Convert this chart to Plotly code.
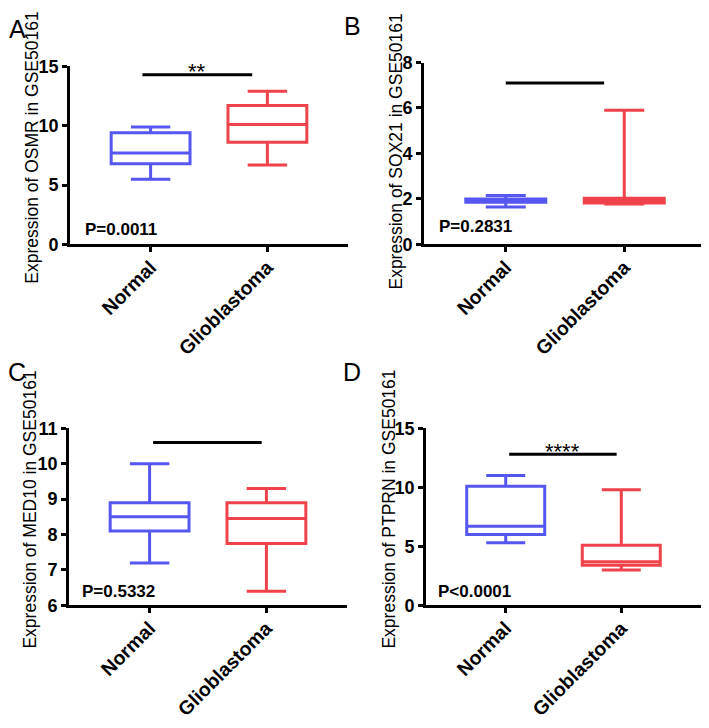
import plotly.graph_objects as go

# The page body keeps the browser's default 8px margin, so the figure is
# drawn 8px in from the top-left corner; compensate for that.
OFF = 8
W, H = 709 - OFF, 728 - 2 * OFF
categories = ["Normal", "Glioblastoma"]
colors = ["#5656f0", "#f0424a"]

# Box statistics per panel: [lower whisker, q1, median, q3, upper whisker]
panel_letters = ["A", "B", "C", "D"]
genes = ["OSMR", "SOX21", "MED10", "PTPRN"]
normal_stats = [
    [5.5, 6.8, 7.7, 9.4, 9.9],
    [1.65, 1.85, 1.93, 2.0, 2.15],
    [7.2, 8.1, 8.5, 8.9, 10.0],
    [5.3, 6.0, 6.7, 10.1, 11.0],
]
gbm_stats = [
    [6.7, 8.6, 10.1, 11.7, 12.9],
    [1.78, 1.82, 1.95, 2.03, 5.9],
    [6.4, 7.75, 8.45, 8.9, 9.3],
    [3.0, 3.4, 3.7, 5.1, 9.8],
]
y_ranges = [[0, 15], [0, 8], [6, 11], [0, 15]]
y_dticks = [5, 2, 1, 5]
p_values = ["P=0.0011", "P=0.2831", "P=0.5332", "P<0.0001"]
sig_y = [14.3, 7.1, 10.6, 12.8]
sig_x = [[-0.07, 0.87], [0.0, 0.83], [0.03, 0.96], [0.03, 0.96]]
sig_stars = ["**", "", "", "****"]

# layout in page pixels: (x0, x1, ytop, ybottom)
boxes_px = [
    (70, 348, 58, 242),
    (424, 706, 54, 242),
    (69, 347, 432, 615),
    (426, 701, 432, 615),
]
ytitle_px = [(32, 142), (396, 146), (30, 516), (389, 516)]
letter_px = [(17, 19), (352, 16), (17, 374), (352, 374)]
p_px = [(83, 227), (437, 223), (80, 601), (436, 601)]


def fx(px):
    return min(1.0, max(0.0, (px - OFF) / W))


def fy(py):
    return min(1.0, max(0.0, 1 - (py - OFF) / H))


FONT = "Liberation Sans, Arial, sans-serif"
fig = go.Figure()
layout = dict(
    width=W, height=H, margin=dict(l=0, r=0, t=0, b=0),
    paper_bgcolor="white", plot_bgcolor="white", showlegend=False,
    font=dict(family=FONT, color="black"),
    annotations=[], shapes=[],
)

for i in range(4):
    ax = "" if i == 0 else str(i + 1)
    xa, ya = "x" + ax, "y" + ax
    for j, (cat, st) in enumerate(zip(categories, [normal_stats[i], gbm_stats[i]])):
        fig.add_trace(go.Box(
            x=[cat], lowerfence=[st[0]], q1=[st[1]], median=[st[2]], q3=[st[3]],
            upperfence=[st[4]], boxpoints=False, width=0.675, whiskerwidth=0.5,
            line=dict(color=colors[j], width=3), fillcolor="rgba(255,255,255,0)",
            xaxis=xa, yaxis=ya, hoverinfo="skip",
        ))
    x0, x1, yt, yb = boxes_px[i]
    layout["xaxis" + ax] = dict(
        domain=[fx(x0), fx(x1)], anchor=ya, type="category",
        categoryorder="array", categoryarray=categories,
        range=[-0.69, 1.69], showline=True, linewidth=2.7, linecolor="black",
        ticks="outside", ticklen=5, tickwidth=2.7, tickcolor="black",
        tickangle=-45, showgrid=False, zeroline=False, ticklabelstandoff=-4,
        tickfont=dict(family=FONT, size=19.5, weight="bold", color="black"),
    )
    layout["yaxis" + ax] = dict(
        domain=[fy(yb), fy(yt)], anchor=xa, range=y_ranges[i],
        dtick=y_dticks[i], tick0=0, showline=True, linewidth=2.7, linecolor="black",
        ticks="outside", ticklen=5, tickwidth=2.7, tickcolor="black",
        showgrid=False, zeroline=False,
        tickfont=dict(family=FONT, size=18, weight="bold", color="black"),
    )
    # y title
    tx, ty = ytitle_px[i]
    layout["annotations"].append(dict(
        text=f"Expression of {genes[i]} in GSE50161", x=fx(tx), y=fy(ty),
        xref="paper", yref="paper", textangle=-90, showarrow=False,
        xanchor="center", yanchor="middle",
        font=dict(family=FONT, size=17.5, color="black"),
    ))
    # panel letter
    lx, ly = letter_px[i]
    layout["annotations"].append(dict(
        text=panel_letters[i], x=fx(lx), y=fy(ly), xref="paper", yref="paper",
        showarrow=False, xanchor="center", yanchor="middle",
        font=dict(family=FONT, size=25, color="black"),
    ))
    # p value
    px_, py_ = p_px[i]
    layout["annotations"].append(dict(
        text=p_values[i], x=fx(px_), y=fy(py_), xref="paper", yref="paper",
        showarrow=False, xanchor="left", yanchor="middle",
        font=dict(family=FONT, size=17, weight="bold", color="black"),
    ))
    # significance bar
    layout["shapes"].append(dict(
        type="line", xref=xa, yref=ya, x0=sig_x[i][0], x1=sig_x[i][1],
        y0=sig_y[i], y1=sig_y[i], line=dict(color="black", width=3),
    ))
    if sig_stars[i]:
        layout["annotations"].append(dict(
            text=sig_stars[i], x=(sig_x[i][0] + sig_x[i][1]) / 2, y=sig_y[i],
            xref=xa, yref=ya, showarrow=False, xanchor="center", yanchor="middle",
            yshift=3, font=dict(family=FONT, size=22, color="black"),
        ))

fig.update_layout(**layout)
fig.write_html("out.html")
